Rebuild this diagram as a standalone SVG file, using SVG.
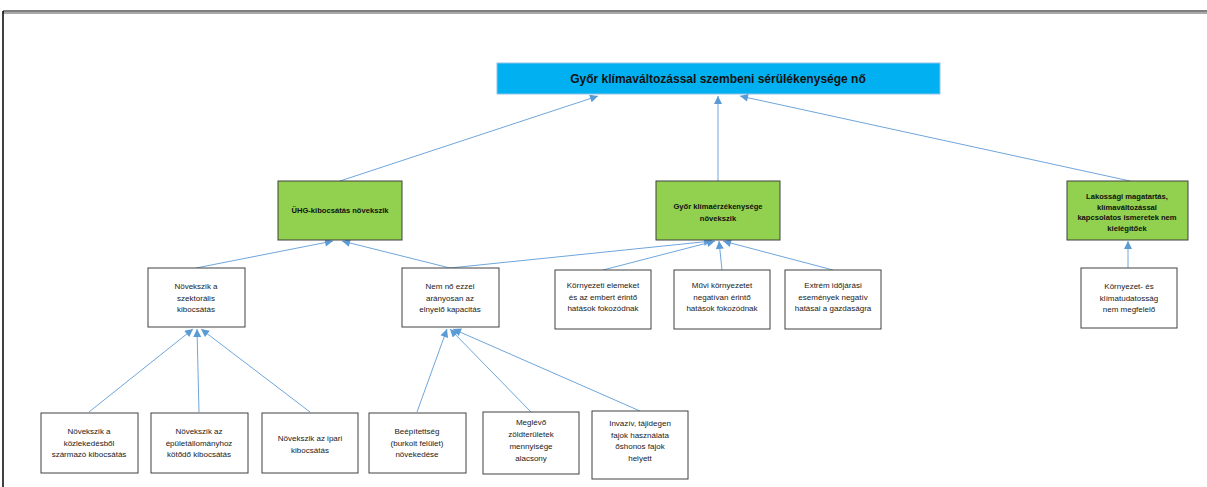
<svg xmlns="http://www.w3.org/2000/svg" width="1207" height="487" viewBox="0 0 1207 487">
<defs>
<marker id="arr" viewBox="0 0 10 10" refX="10" refY="5" markerWidth="10" markerHeight="8" markerUnits="userSpaceOnUse" orient="auto">
<path d="M0,0 L10,5 L0,10 z" fill="#5b9bd5"/>
</marker>
<style>
.box{fill:#ffffff;stroke:#404040;stroke-width:1}
.top{fill:#00b0f0;stroke:#8fc3e6;stroke-width:1}
.grn{fill:#92d050;stroke:#404040;stroke-width:1}
text{font-family:"Liberation Sans",Arial,sans-serif;font-size:8px;fill:#1a1a1a;text-anchor:middle}
.b{font-weight:bold;font-size:7.6px;fill:#111}
.t{font-weight:bold;font-size:12px;fill:#111}
.c line{stroke:#6fa6dc;stroke-width:1;marker-end:url(#arr)}
</style>
</defs>
<rect width="1207" height="487" fill="#ffffff"/>
<g id="frame">
<line x1="3" y1="11" x2="1207" y2="11" stroke="#000" stroke-width="1"/>
<line x1="3" y1="13" x2="1207" y2="13" stroke="#555" stroke-width="1.2"/>
<line x1="3" y1="11" x2="3" y2="487" stroke="#000" stroke-width="1.5"/>
</g>
<g class="c" id="connectors">
<line x1="340" y1="181" x2="598" y2="96"/>
<line x1="718" y1="181" x2="718" y2="96"/>
<line x1="1130" y1="181" x2="740" y2="96"/>
<line x1="196" y1="268" x2="333" y2="241"/>
<line x1="450" y1="268" x2="342" y2="241"/>
<line x1="450" y1="268" x2="712" y2="241"/>
<line x1="603" y1="270" x2="715" y2="241"/>
<line x1="722" y1="270" x2="719" y2="241"/>
<line x1="833" y1="270" x2="723" y2="241"/>
<line x1="1128" y1="268" x2="1128" y2="241"/>
<line x1="89" y1="412" x2="193" y2="329"/>
<line x1="199" y1="412" x2="197" y2="329"/>
<line x1="310" y1="412" x2="201" y2="329"/>
<line x1="417" y1="412" x2="447" y2="329"/>
<line x1="531" y1="412" x2="450" y2="329"/>
<line x1="640" y1="411" x2="453" y2="329"/>
</g>
<g id="n-top">
<rect class="top" x="497" y="63" width="443" height="31"/>
<text class="t" x="718" y="83">Győr klímaváltozással szembeni sérülékenysége nő</text>
</g>
<g id="n-uhg">
<rect class="grn" x="278" y="181" width="124" height="59"/>
<text class="b" x="340" y="213">ÜHG-kibocsátás növekszik</text>
</g>
<g id="n-klimaerz">
<rect class="grn" x="656" y="181" width="124" height="59"/>
<text class="b" x="718" y="209">Győr klímaérzékenysége</text>
<text class="b" x="718" y="221">növekszik</text>
</g>
<g id="n-lakossag">
<rect class="grn" x="1067" y="181" width="121" height="59"/>
<text class="b" x="1127" y="199">Lakossági magatartás,</text>
<text class="b" x="1127" y="209.5">klímaváltozással</text>
<text class="b" x="1127" y="220">kapcsolatos ismeretek nem</text>
<text class="b" x="1127" y="230.5">kielégítőek</text>
</g>
<g id="n-szektoralis">
<rect class="box" x="148" y="268" width="97" height="59"/>
<text x="196" y="289">Növekszik a</text>
<text x="196" y="300.5">szektorális</text>
<text x="196" y="312">kibocsátás</text>
</g>
<g id="n-elnyelo">
<rect class="box" x="402" y="268" width="97" height="59"/>
<text x="450" y="289">Nem nő ezzel</text>
<text x="450" y="300.5">arányosan az</text>
<text x="450" y="312">elnyelő kapacitás</text>
</g>
<g id="n-kornyezeti">
<rect class="box" x="555" y="270" width="96" height="59"/>
<text x="603" y="288">Környezeti elemeket</text>
<text x="603" y="299.5">és az embert érintő</text>
<text x="603" y="311">hatások fokozódnak</text>
</g>
<g id="n-muvi">
<rect class="box" x="674" y="270" width="96" height="59"/>
<text x="722" y="288">Művi környezetet</text>
<text x="722" y="299.5">negatívan érintő</text>
<text x="722" y="311">hatások fokozódnak</text>
</g>
<g id="n-extrem">
<rect class="box" x="785" y="270" width="96" height="59"/>
<text x="833" y="288">Extrém időjárási</text>
<text x="833" y="299.5">események negatív</text>
<text x="833" y="311">hatásai a gazdaságra</text>
</g>
<g id="n-tudatossag">
<rect class="box" x="1081" y="268" width="96" height="60"/>
<text x="1129" y="289">Környezet- és</text>
<text x="1129" y="300.5">klímatudatosság</text>
<text x="1129" y="312">nem megfelelő</text>
</g>
<g id="n-kozlekedes">
<rect class="box" x="41" y="413" width="97" height="60"/>
<text x="89" y="434">Növekszik a</text>
<text x="89" y="445.5">közlekedésből</text>
<text x="89" y="457">származó kibocsátás</text>
</g>
<g id="n-epulet">
<rect class="box" x="151" y="413" width="97" height="60"/>
<text x="199" y="434">Növekszik az</text>
<text x="199" y="445.5">épületállományhoz</text>
<text x="199" y="457">kötődő kibocsátás</text>
</g>
<g id="n-ipari">
<rect class="box" x="262" y="413" width="96" height="60"/>
<text x="310" y="441">Növekszik az ipari</text>
<text x="310" y="452.5">kibocsátás</text>
</g>
<g id="n-beepitettseg">
<rect class="box" x="369" y="413" width="97" height="60"/>
<text x="417" y="434">Beépítettség</text>
<text x="417" y="445.5">(burkolt felület)</text>
<text x="417" y="457">növekedése</text>
</g>
<g id="n-zoldterulet">
<rect class="box" x="483" y="412" width="96" height="62"/>
<text x="531" y="425">Meglévő</text>
<text x="531" y="437">zöldterületek</text>
<text x="531" y="449">mennyisége</text>
<text x="531" y="461">alacsony</text>
</g>
<g id="n-invaziv">
<rect class="box" x="592" y="411" width="96" height="68"/>
<text x="640" y="426">Invazív, tájidegen</text>
<text x="640" y="437.5">fajok használata</text>
<text x="640" y="449">őshonos fajok</text>
<text x="640" y="460.5">helyett</text>
</g>
</svg>
